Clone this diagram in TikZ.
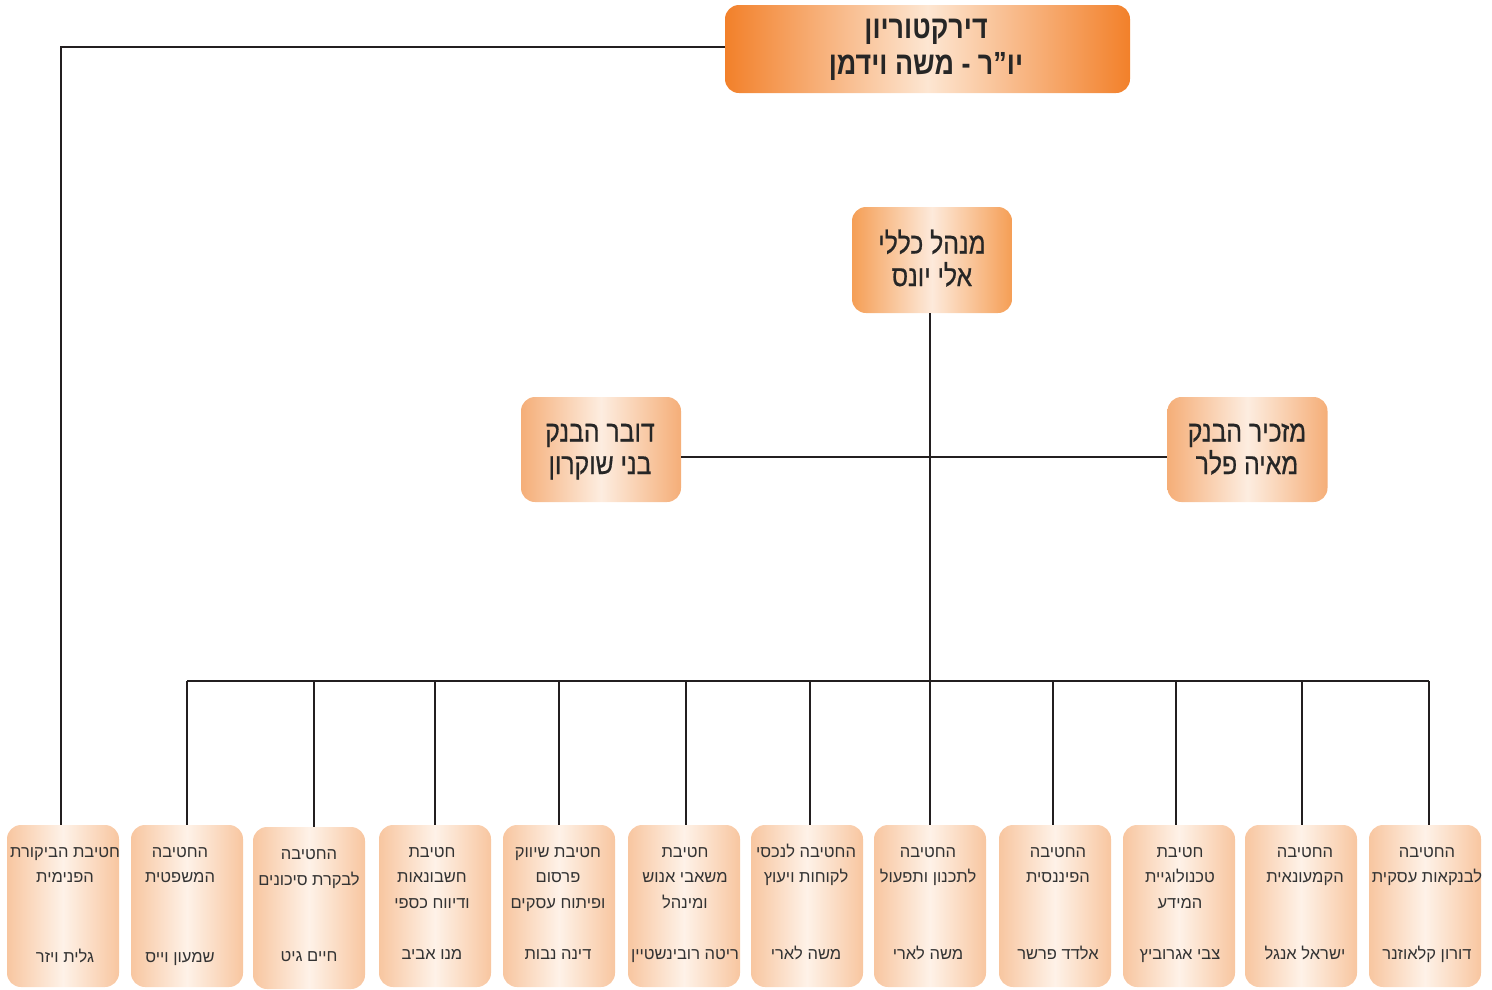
\documentclass[tikz,border=0pt]{standalone}
\usepackage{fontspec}
\newfontfamily\heb[Script=Hebrew]{Liberation Sans}
\newfontfamily\hebc[Script=Hebrew,FakeStretch=0.84]{Liberation Sans}
\newfontfamily\hebm[Script=Hebrew,FakeStretch=0.84,FakeBold=0.6]{Liberation Sans}
\TeXXeTstate=1
\newcommand{\rtl}[1]{\beginR #1\endR}
\definecolor{topedge}{HTML}{F2802A}
\definecolor{topmid}{HTML}{FDE6D2}
\definecolor{gmedge}{HTML}{F59E55}
\definecolor{gmmid}{HTML}{FDEADB}
\definecolor{sideedge}{HTML}{F5AE78}
\definecolor{sidemid}{HTML}{FDEDE0}
\definecolor{botedge}{HTML}{F8C6A0}
\definecolor{botmid}{HTML}{FEF2E8}
\definecolor{linec}{HTML}{231F20}
\definecolor{txt}{HTML}{333333}
\begin{document}
\begin{tikzpicture}[x=1pt,y=-1pt,
  conn/.style={draw=linec,line width=2pt},
  topbox/.style={rounded corners=14pt,minimum width=405pt,minimum height=88pt,
     left color=topedge,right color=topedge,middle color=topmid,inner sep=0pt},
  gmbox/.style={rounded corners=14pt,minimum width=160pt,minimum height=106pt,
     left color=gmedge,right color=gmedge,middle color=gmmid,inner sep=0pt},
  sidebox/.style={rounded corners=14pt,minimum width=160pt,minimum height=105pt,
     left color=sideedge,right color=sideedge,middle color=sidemid,inner sep=0pt},
  bbox/.style={rounded corners=14pt,minimum width=112pt,minimum height=162pt,
     left color=botedge,right color=botedge,middle color=botmid,inner sep=0pt},
  btxt/.style={text=txt,align=center,inner sep=0pt,anchor=base,
     font={\heb\fontsize{16.5}{25.5}\selectfont}},
  toptxt/.style={text=black!85,align=center,inner sep=0pt,anchor=base,
     font={\hebc\bfseries\fontsize{32}{36}\selectfont}},
  midtxt/.style={text=black!85,align=center,inner sep=0pt,anchor=base,
     font={\hebm\fontsize{29.5}{32.5}\selectfont}},
]
\useasboundingbox (0,0) rectangle (1492,989);

% top level
\node[topbox] (dir) at (927.5,49) {};
\node[toptxt] at (926,74) {\rtl{דירקטוריון}\\\rtl{יו”ר - משה וידמן}};

\node[gmbox] (gm) at (932,260) {};
\node[midtxt] at (932,286) {\rtl{מנהל כללי}\\\rtl{אלי יונס}};

\node[sidebox] (spk) at (601,449.5) {};
\node[midtxt] at (600,474) {\rtl{דובר הבנק}\\\rtl{בני שוקרון}};

\node[sidebox] (sec) at (1247.5,449.5) {};
\node[midtxt] at (1247,474) {\rtl{מזכיר הבנק}\\\rtl{מאיה פלר}};

% bottom boxes
\node[bbox] (b1) at (63,906) {};
\node[bbox] (b2) at (187,906) {};
\node[bbox] (b3) at (309,908) {};
\node[bbox] (b4) at (435,906) {};
\node[bbox] (b5) at (559,906) {};
\node[bbox] (b6) at (684,906) {};
\node[bbox] (b7) at (807,906) {};
\node[bbox] (b8) at (930,906) {};
\node[bbox] (b9) at (1055,906) {};
\node[bbox] (b10) at (1179,906) {};
\node[bbox] (b11) at (1301,906) {};
\node[bbox] (b12) at (1425,906) {};

\node[btxt] at (65,882.5) {\rtl{חטיבת הביקורת}\\\rtl{הפנימית}};
\node[btxt] at (65,962) {\rtl{גלית ויזר}};
\node[btxt] at (180,882.5) {\rtl{החטיבה}\\\rtl{המשפטית}};
\node[btxt] at (180,962) {\rtl{שמעון וייס}};
\node[btxt] at (309,885) {\rtl{החטיבה}\\\rtl{לבקרת סיכונים}};
\node[btxt] at (309,961) {\rtl{חיים גיט}};
\node[btxt] at (432,908) {\rtl{חטיבת}\\\rtl{חשבונאות}\\\rtl{ודיווח כספי}};
\node[btxt] at (432,959) {\rtl{מנו אביב}};
\node[btxt] at (558,908) {\rtl{חטיבת שיווק}\\\rtl{פרסום}\\\rtl{ופיתוח עסקים}};
\node[btxt] at (558,959) {\rtl{דינה נבות}};
\node[btxt] at (685,908) {\rtl{חטיבת}\\\rtl{משאבי אנוש}\\\rtl{ומינהל}};
\node[btxt] at (685,959) {\rtl{ריטה רובינשטיין}};
\node[btxt] at (806,882.5) {\rtl{החטיבה לנכסי}\\\rtl{לקוחות ויעוץ}};
\node[btxt] at (806,959) {\rtl{משה לארי}};
\node[btxt] at (928,882.5) {\rtl{החטיבה}\\\rtl{לתכנון ותפעול}};
\node[btxt] at (928,959) {\rtl{משה לארי}};
\node[btxt] at (1058,882.5) {\rtl{החטיבה}\\\rtl{הפיננסית}};
\node[btxt] at (1058,959) {\rtl{אלדד פרשר}};
\node[btxt] at (1180,908) {\rtl{חטיבת}\\\rtl{טכנולוגיית}\\\rtl{המידע}};
\node[btxt] at (1180,959) {\rtl{צבי אגרוביץ}};
\node[btxt] at (1305,882.5) {\rtl{החטיבה}\\\rtl{הקמעונאית}};
\node[btxt] at (1305,959) {\rtl{ישראל אנגל}};
\node[btxt] at (1427,882.5) {\rtl{החטיבה}\\\rtl{לבנקאות עסקית}};
\node[btxt] at (1427,959) {\rtl{דורון קלאוזנר}};

% connectors
\coordinate (bus) at (930,681);
\draw[conn] ([yshift=2pt]dir.west) -| ([xshift=-2pt]b1.north);
\draw[conn] ([xshift=-2pt]gm.south) -- (bus);
\draw[conn] ([yshift=-7.5pt]spk.east) -- ([yshift=-7.5pt]sec.west);
\draw[conn] (b2.north |- bus) -- ([xshift=4pt]b12.north |- bus);
\foreach \b/\s in {b2/0,b3/5,b4/0,b5/0,b6/2,b7/3,b8/0,b9/-2,b10/-3,b11/1,b12/4}
  \draw[conn] ([xshift=\s pt]\b.north |- bus) -- ([xshift=\s pt]\b.north);
\end{tikzpicture}
\end{document}
